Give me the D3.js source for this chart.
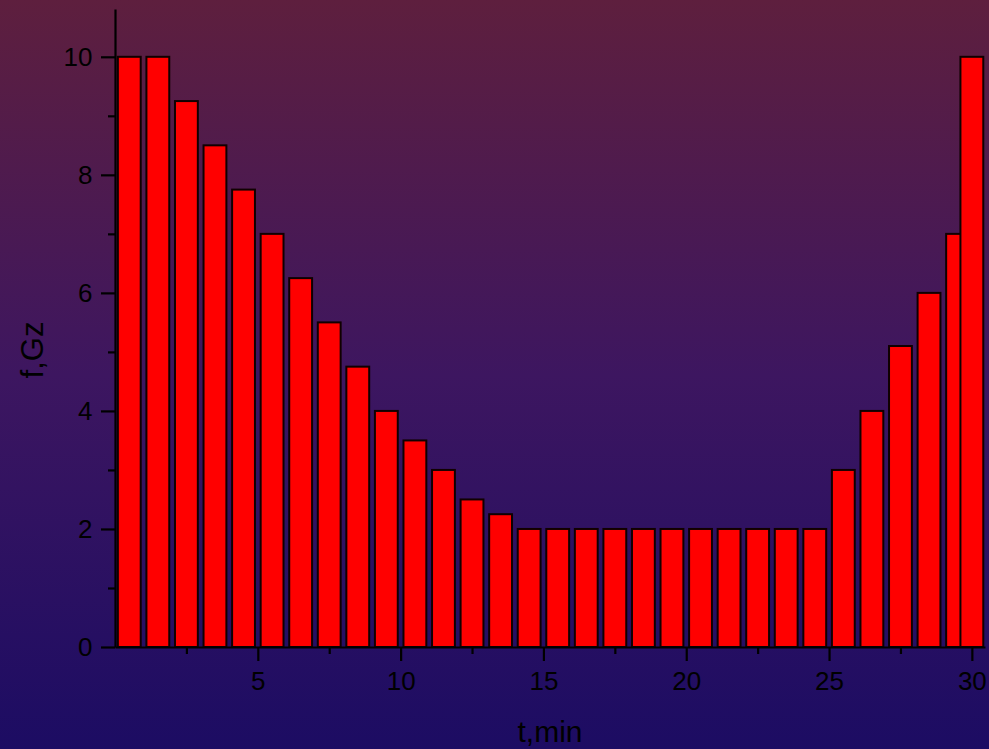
<!DOCTYPE html>
<html>
<head>
<meta charset="utf-8">
<script src="https://cdn.jsdelivr.net/npm/d3@7"></script>
<style>
  html, body { margin: 0; padding: 0; background: #1c0c63; }
  svg { display: block; }
  text { font-family: "Liberation Sans", Arial, sans-serif; fill: #000; }
</style>
</head>
<body>
<script>
// ---- data ----
const times = [0.5, 1.5, 2.5, 3.5, 4.5, 5.5, 6.5, 7.5, 8.5, 9.5,
               10.5, 11.5, 12.5, 13.5, 14.5, 15.5, 16.5, 17.5, 18.5, 19.5,
               20.5, 21.5, 22.5, 23.5, 24.5, 25.5, 26.5, 27.5, 28.5, 29.5, 30];
const freq = [10, 10, 9.25, 8.5, 7.75, 7, 6.25, 5.5, 4.75, 4,
              3.5, 3, 2.5, 2.25, 2, 2, 2, 2, 2, 2,
              2, 2, 2, 2, 2, 3, 4, 5.1, 6, 7, 10];
const xTicks = [5, 10, 15, 20, 25, 30];
const xMinorTicks = [2.5, 7.5, 12.5, 17.5, 22.5, 27.5];
const yTicks = [0, 2, 4, 6, 8, 10];
const yMinorTicks = [1, 3, 5, 7, 9];
const xTitle = "t,min";
const yTitle = "f,Gz";

// ---- layout ----
const W = 989, H = 749;
const svg = d3.select("body").append("svg").attr("width", W).attr("height", H);

const defs = svg.append("defs");
const grad = defs.append("linearGradient").attr("id", "bg")
  .attr("x1", 0).attr("y1", 0).attr("x2", 0).attr("y2", 1);
grad.append("stop").attr("offset", "0%").attr("stop-color", "#5e1f3e");
grad.append("stop").attr("offset", "50%").attr("stop-color", "#3d1660");
grad.append("stop").attr("offset", "100%").attr("stop-color", "#1c0c63");
svg.append("rect").attr("width", W).attr("height", H).attr("fill", "url(#bg)");

const x = d3.scaleLinear().domain([0, 30.46]).range([115, 985]);
const y = d3.scaleLinear().domain([0, 10.81]).range([647, 9]);
const barW = x(0.8) - x(0);

// bars
svg.append("g").selectAll("rect")
  .data(times.map((t, i) => ({ t, v: freq[i] })))
  .join("rect")
  .attr("x", d => x(d.t) - barW / 2)
  .attr("width", barW)
  .attr("y", d => y(d.v))
  .attr("height", d => y(0) - y(d.v))
  .attr("fill", "#ff0000")
  .attr("stroke", "#100000")
  .attr("stroke-width", 2);

function styleAxis(g) {
  g.selectAll("path, line").attr("stroke", "#000").attr("stroke-width", 2.2);
  g.selectAll("text").style("font-size", "26px").attr("fill", "#000");
}

// x axis
const xAxisG = svg.append("g").attr("transform", `translate(0,${y(0)})`);
xAxisG.call(d3.axisBottom(x).tickValues(xTicks).tickSize(14).tickSizeOuter(0)
  .tickPadding(10.5).tickFormat(d3.format("d")));
styleAxis(xAxisG);
const xMinorG = svg.append("g").attr("transform", `translate(0,${y(0)})`);
xMinorG.call(d3.axisBottom(x).tickValues(xMinorTicks).tickSize(7).tickSizeOuter(0).tickFormat(""));
xMinorG.select(".domain").remove();
styleAxis(xMinorG);

// y axis
const yAxisG = svg.append("g").attr("transform", `translate(${x(0)},0)`);
yAxisG.call(d3.axisLeft(y).tickValues(yTicks).tickSize(14).tickSizeOuter(0)
  .tickPadding(8.5).tickFormat(d3.format("d")));
styleAxis(yAxisG);
const yMinorG = svg.append("g").attr("transform", `translate(${x(0)},0)`);
yMinorG.call(d3.axisLeft(y).tickValues(yMinorTicks).tickSize(7).tickSizeOuter(0).tickFormat(""));
yMinorG.select(".domain").remove();
styleAxis(yMinorG);

// titles
svg.append("text").attr("x", 550).attr("y", 742)
  .attr("text-anchor", "middle").style("font-size", "30px").text(xTitle);
svg.append("text").attr("transform", "translate(43,350) rotate(-90)")
  .attr("text-anchor", "middle").style("font-size", "31px").text(yTitle);
</script>
</body>
</html>
